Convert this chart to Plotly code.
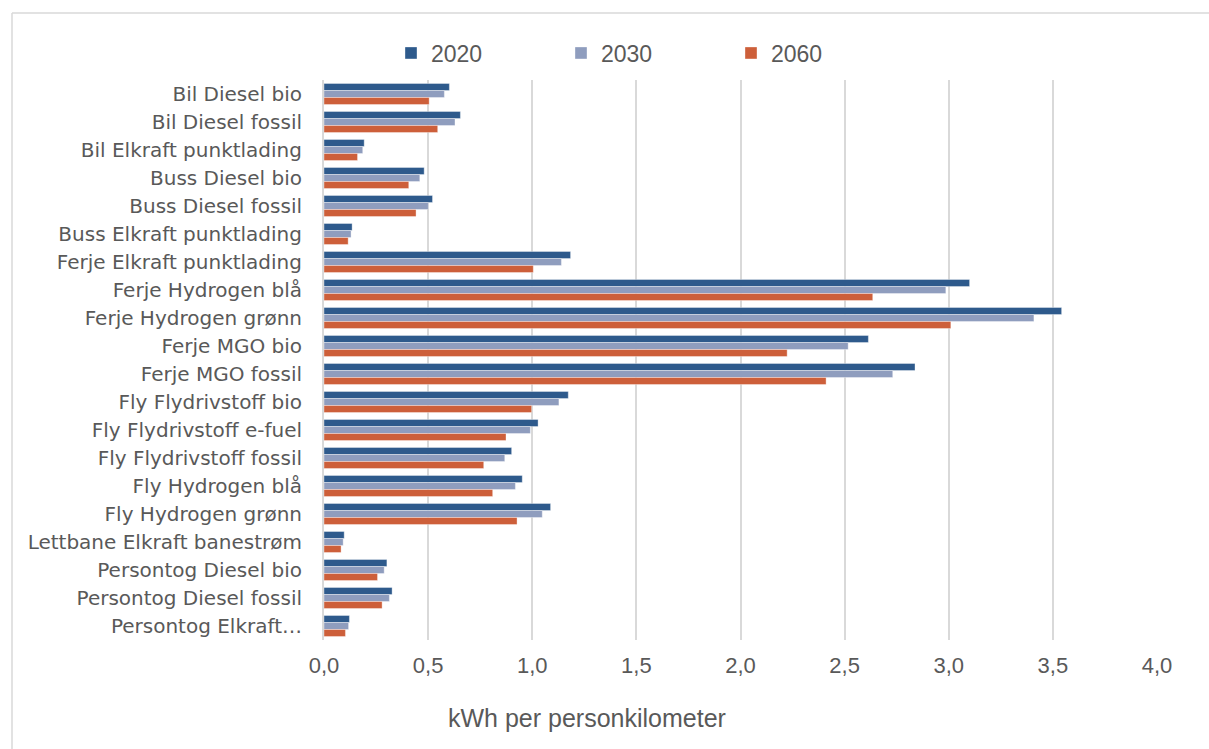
import plotly.graph_objects as go

categories = [
    "Bil Diesel bio", "Bil Diesel fossil", "Bil Elkraft punktlading",
    "Buss Diesel bio", "Buss Diesel fossil", "Buss Elkraft punktlading",
    "Ferje Elkraft punktlading", "Ferje Hydrogen blå", "Ferje Hydrogen grønn",
    "Ferje MGO bio", "Ferje MGO fossil", "Fly Flydrivstoff bio",
    "Fly Flydrivstoff e-fuel", "Fly Flydrivstoff fossil", "Fly Hydrogen blå",
    "Fly Hydrogen grønn", "Lettbane Elkraft banestrøm", "Persontog Diesel bio",
    "Persontog Diesel fossil", "Persontog Elkraft…",
]

v2020 = [0.602, 0.655, 0.193, 0.481, 0.521, 0.135, 1.184, 3.100, 3.542, 2.614,
         2.838, 1.173, 1.028, 0.901, 0.952, 1.088, 0.097, 0.302, 0.327, 0.122]
v2030 = [0.578, 0.629, 0.186, 0.460, 0.501, 0.130, 1.140, 2.986, 3.409, 2.517,
         2.731, 1.128, 0.991, 0.868, 0.919, 1.048, 0.092, 0.289, 0.314, 0.118]
v2060 = [0.505, 0.546, 0.161, 0.407, 0.442, 0.116, 1.005, 2.635, 3.010, 2.224,
         2.411, 0.997, 0.874, 0.767, 0.810, 0.927, 0.082, 0.257, 0.279, 0.103]

series = [("2020", v2020, "#2E5A8C"), ("2030", v2030, "#8F9DBE"), ("2060", v2060, "#CD5F3A")]

x_ticks = [0, 0.5, 1, 1.5, 2, 2.5, 3, 3.5, 4]
x_tick_text = ["0,0", "0,5", "1,0", "1,5", "2,0", "2,5", "3,0", "3,5", "4,0"]

W, H = 1209, 749
L, R, T, B = 324, 52, 80, 109

fig = go.Figure()
for name, vals, col in series:
    fig.add_trace(go.Bar(
        y=categories, x=vals, name=name, orientation="h",
        marker=dict(color=col, line=dict(color="rgba(255,255,255,0.6)", width=0.6)),
    ))

text_col = "#595959"
font_family = "Liberation Sans, Arial, sans-serif"
label_family = "DejaVu Sans, sans-serif"

pw = W - L - R
def px_to_paper_x(px):
    return (px - L) / pw
ph = H - T - B
def px_to_paper_y(py):
    return 1 - (py - T) / ph

fig.update_layout(
    width=W, height=H,
    margin=dict(l=L, r=R, t=T, b=B),
    paper_bgcolor="white", plot_bgcolor="white",
    barmode="group", bargap=0.25, bargroupgap=0,
    font=dict(family=font_family, color=text_col, size=19),
    showlegend=True,
    legend=dict(
        orientation="h", x=px_to_paper_x(391), xanchor="left",
        y=px_to_paper_y(53), yanchor="middle",
        font=dict(size=23, color=text_col), itemwidth=30,
        traceorder="normal", entrywidth=125, entrywidthmode="pixels",
    ),
    xaxis=dict(
        range=[0, 4], tickvals=x_ticks, ticktext=x_tick_text,
        showgrid=True, gridcolor="#D9D9D9", gridwidth=2,
        zeroline=False, showline=False, ticks="",
        tickfont=dict(size=22, color=text_col), ticklabelstandoff=10,
    ),
    yaxis=dict(
        autorange="reversed", showgrid=False, showline=True,
        linecolor="#D9D9D9", linewidth=2, ticks="",
        tickfont=dict(family=label_family, size=20, color=text_col),
        ticklabelstandoff=16,
    ),
    annotations=[dict(
        text="kWh per personkilometer", xref="paper", yref="paper",
        x=px_to_paper_x(587), y=px_to_paper_y(718),
        xanchor="center", yanchor="middle", showarrow=False,
        font=dict(size=25, color=text_col),
    )],
    shapes=[
        dict(type="line", xref="paper", yref="paper",
             x0=px_to_paper_x(12), x1=px_to_paper_x(1215),
             y0=px_to_paper_y(13), y1=px_to_paper_y(13),
             line=dict(color="#D9D9D9", width=1.5)),
        dict(type="line", xref="paper", yref="paper",
             x0=px_to_paper_x(12), x1=px_to_paper_x(12),
             y0=px_to_paper_y(13), y1=px_to_paper_y(760),
             line=dict(color="#D9D9D9", width=1.5)),
    ],
)

fig.write_html("out.html")
